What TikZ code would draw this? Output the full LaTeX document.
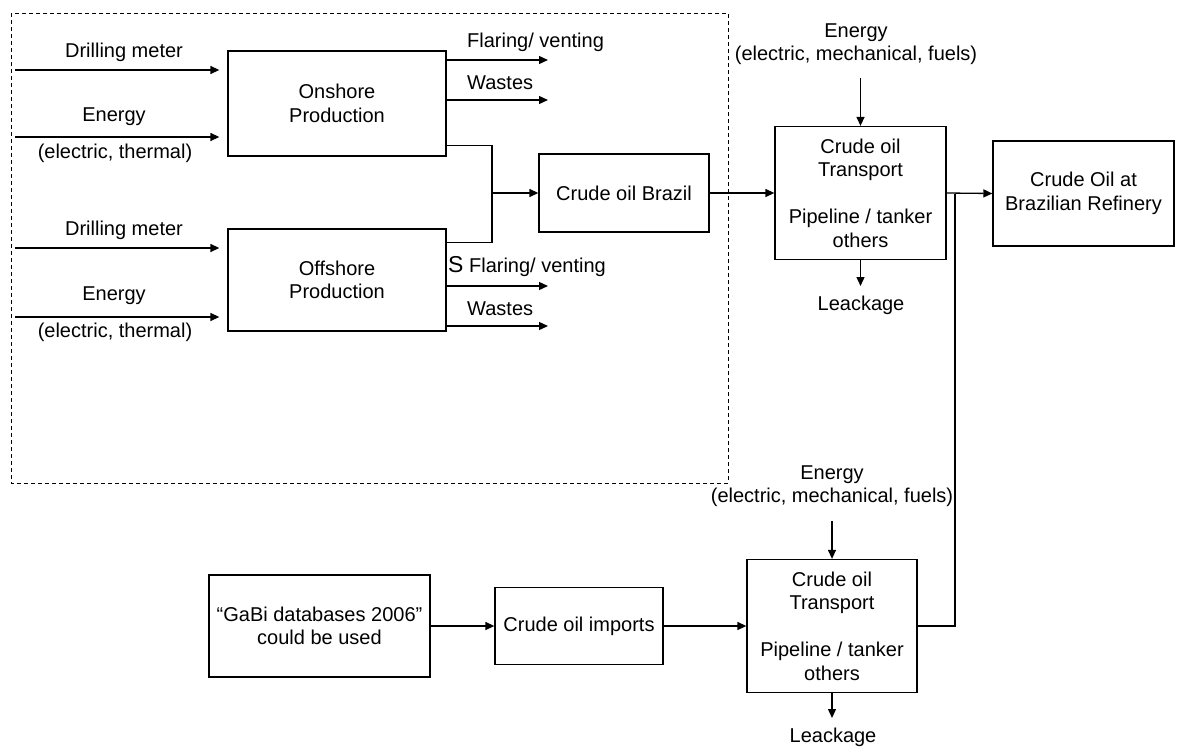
\documentclass[tikz,border=0pt]{standalone}
\usepackage{fontspec}
\setmainfont{Liberation Sans}
\usetikzlibrary{arrows.meta}
\tikzset{
  every picture/.style={line join=miter, >={Triangle[length=9pt,width=8pt]}},
  box/.style={draw, line width=1.3pt, inner sep=0pt, align=center},
  lbl/.style={inner sep=0pt, align=center},
  flow/.style={->, line width=1.3pt},
  link/.style={line width=1.3pt},
}
\begin{document}
\begin{tikzpicture}[x=1pt,y=-1pt,font=\fontsize{20}{23.5}\selectfont]
\useasboundingbox (0,0) rectangle (1177,747);
\draw[dash pattern=on 4pt off 3pt,line width=0.9pt](11,13) rectangle (728,483);
\node[box,minimum width=218pt,minimum height=105pt](on) at (337,103.5){Onshore\\Production};
\node[box,minimum width=218pt,minimum height=102pt](off) at (337,280){Offshore\\Production};
\node[box,minimum width=170pt,minimum height=78pt](brazil) at (624,193){Crude oil Brazil};
\node[box,minimum width=171pt,minimum height=133pt](tr1) at (860.5,193){Crude oil\\Transport\\[23.5pt]Pipeline / tanker\\others};
\node[box,minimum width=181pt,minimum height=105pt](ref) at (1083.5,193.5){Crude Oil at\\Brazilian Refinery};
\node[box,minimum width=221pt,minimum height=102pt](gabi) at (319.5,626){“GaBi databases 2006”\\could be used};
\node[box,minimum width=168pt,minimum height=77pt](imp) at (579,626){Crude oil imports};
\node[box,minimum width=170pt,minimum height=133pt](tr2) at (832,626){Crude oil\\Transport\\[23.5pt]Pipeline / tanker\\others};
\node[lbl](dml1) at (124,52){Drilling meter};
\node[lbl](enl1) at (114,117){Energy};
\node[lbl](etl1) at (115,153){(electric, thermal)};
\node[lbl](dml2) at (124,230){Drilling meter};
\node[lbl](enl2) at (114,296){Energy};
\node[lbl](etl2) at (115,332){(electric, thermal)};
\node[lbl,anchor=west](fll1) at (467,42){Flaring/ venting};
\node[lbl,anchor=west](wsl1) at (467,83){Wastes};
\node[lbl,anchor=west](fll2) at (448,267){{\fontsize{23}{23}\selectfont S} Flaring/ venting};
\node[lbl,anchor=west](wsl2) at (467,309){Wastes};
\node[lbl](enr1) at (856,44){Energy\\(electric, mechanical, fuels)};
\node[lbl](lk1) at (861,305){Leackage};
\node[lbl](enr2) at (832,486){Energy\\(electric, mechanical, fuels)};
\node[lbl](lk2) at (833,737){Leackage};
\coordinate (dm1) at (15,70);
\coordinate (en1) at (15,137);
\coordinate (dm2) at (15,248);
\coordinate (en2) at (15,317);
\coordinate (fl1) at (548,60);
\coordinate (ws1) at (548,100);
\coordinate (fl2) at (548,286);
\coordinate (ws2) at (548,326);
\coordinate (j) at (492,193);
\coordinate (k) at (955,193.5);
\coordinate (e1s) at (860.5,78);
\coordinate (l1e) at (860.5,286);
\coordinate (e2s) at (832,521);
\coordinate (l2e) at (832,718);
\draw[flow](dm1)--([xshift=-8pt]on.west|-dm1);
\draw[flow](en1)--([xshift=-8pt]on.west|-en1);
\draw[flow](dm2)--([xshift=-8pt]off.west|-dm2);
\draw[flow](en2)--([xshift=-8pt]off.west|-en2);
\draw[flow](on.east|-fl1)--(fl1);
\draw[flow](on.east|-ws1)--(ws1);
\draw[flow](off.east|-fl2)--(fl2);
\draw[flow](off.east|-ws2)--(ws2);
\draw[link]([yshift=11pt]on.south east)-|(j)|-([yshift=-14pt]off.north east);
\draw[flow](j)--(brazil.west);
\draw[flow](brazil.east)--(tr1.west);
\draw[flow](tr1.east)--(ref.west);
\draw[flow](e1s)--(tr1.north);
\draw[flow](tr1.south)--(l1e);
\draw[flow](gabi.east)--(imp.west);
\draw[flow](imp.east)--(tr2.west);
\draw[link](tr2.east)-|(k);
\draw[flow](e2s)--(tr2.north);
\draw[flow](tr2.south)--(l2e);
\end{tikzpicture}
\end{document}
